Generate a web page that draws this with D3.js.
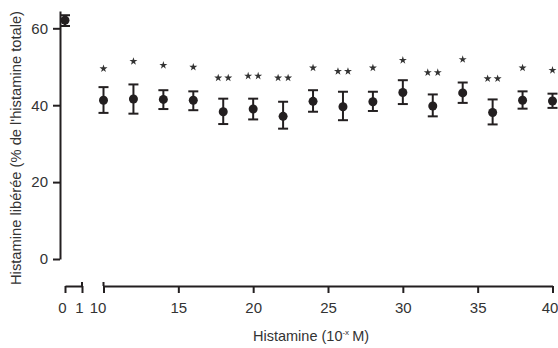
<!DOCTYPE html>
<html>
<head>
<meta charset="utf-8">
<script src="https://cdn.jsdelivr.net/npm/d3@7"></script>
<style>
  body { margin: 0; background: #fff; }
  svg { display: block; font-family: "Liberation Sans", Arial, sans-serif; }
  .axis path, .axis line { stroke: #231f20; stroke-width: 2; }
  .axis text { fill: #333; font-size: 15px; font-family: "Liberation Sans", Arial, sans-serif; }
</style>
</head>
<body>
<svg id="chart"></svg>
<script>
// Histamine concentration (10^-x M); 0 is the control
var doses = [0, 10, 12, 14, 16, 18, 20, 22, 24, 26, 28, 30, 32, 34, 36, 38, 40];
var means = [62.1, 41.3, 41.6, 41.5, 41.3, 38.3, 39.0, 37.1, 41.0, 39.6, 40.9, 43.3, 39.8, 43.2, 38.1, 41.3, 41.1];
var upper = [63.4, 44.7, 45.4, 43.9, 43.6, 41.7, 41.7, 40.9, 43.9, 43.5, 43.5, 46.5, 42.8, 45.9, 41.5, 43.6, 43.0];
var lower = [60.6, 38.0, 37.8, 39.0, 38.7, 35.1, 36.3, 33.9, 38.3, 36.1, 38.5, 40.3, 37.1, 40.6, 35.0, 39.1, 39.3];
// number of significance stars and the level where they sit
var stars = [0, 1, 1, 1, 1, 2, 2, 2, 1, 2, 1, 1, 2, 1, 2, 1, 1];
var starLevel = [0, 49.5, 51.4, 50.4, 49.9, 47.1, 47.6, 47.1, 49.7, 48.8, 49.7, 51.7, 48.5, 51.9, 46.9, 49.7, 49.1];

var yTicks = [0, 20, 40, 60];
var xTicksLow = [0, 1];
var xTicksHigh = [10, 15, 20, 25, 30, 35, 40];

var width = 558, height = 348;
var ink = "#231f20";

var svg = d3.select("#chart")
  .attr("width", width)
  .attr("height", height);

// scales: broken x axis (0-1, then 10-40)
var y = d3.scaleLinear().domain([0, 64.5]).range([259, 11]);
var xLow = d3.scaleLinear().domain([0, 1]).range([65, 82]);
var xHigh = d3.scaleLinear().domain([10, 40]).range([103.5, 552.5]);
var x = function (d) { return d <= 1 ? xLow(d) : xHigh(d); };

var axisY = 286;

// Y axis
svg.append("g")
  .attr("class", "axis")
  .attr("transform", "translate(60,0)")
  .call(d3.axisLeft(y).tickValues(yTicks).tickSize(7).tickSizeOuter(0).tickPadding(5).tickFormat(d3.format("d")));

// X axis, two segments
var gLow = svg.append("g")
  .attr("class", "axis")
  .attr("transform", "translate(0," + axisY + ")")
  .call(d3.axisBottom(xLow).tickValues(xTicksLow).tickSize(7).tickSizeOuter(0).tickPadding(9).tickFormat(d3.format("d")));
gLow.selectAll(".tick text").attr("dx", -3);

var gHigh = svg.append("g")
  .attr("class", "axis")
  .attr("transform", "translate(0," + axisY + ")")
  .call(d3.axisBottom(xHigh).tickValues(xTicksHigh).tickSize(7).tickSizeOuter(0).tickPadding(9).tickFormat(d3.format("d")));
gHigh.selectAll(".tick text").filter(function (d) { return d === 10; }).attr("dx", -6);
gHigh.selectAll(".tick text").filter(function (d) { return d === 40; }).attr("dx", -3);

// break end caps
svg.selectAll(".cap-break")
  .data([1, 10])
  .enter()
  .append("line")
    .attr("x1", function (d) { return x(d); })
    .attr("x2", function (d) { return x(d); })
    .attr("y1", axisY - 4)
    .attr("y2", axisY)
    .attr("stroke", ink)
    .attr("stroke-width", 2);

// axis titles
var xt = svg.append("text")
  .attr("x", 253)
  .attr("y", 341)
  .attr("fill", "#333")
  .style("font-size", "14.5px");
xt.append("tspan").text("Histamine (10");
xt.append("tspan").attr("dy", -6).style("font-size", "8px").text("-x");
xt.append("tspan").attr("dy", 6).attr("dx", 3).text("M)");

svg.append("text")
  .attr("transform", "translate(21,148) rotate(-90)")
  .attr("text-anchor", "middle")
  .attr("fill", "#333")
  .attr("textLength", 274)
  .attr("lengthAdjust", "spacingAndGlyphs")
  .style("font-size", "15px")
  .text("Histamine libérée (% de l'histamine totale)");

var data = doses.map(function (d, i) {
  return { dose: d, mean: means[i], hi: upper[i], lo: lower[i], stars: stars[i], starY: starLevel[i] };
});

var pts = svg.append("g")
  .selectAll("g")
  .data(data)
  .enter()
  .append("g");

// error bars
pts.append("line")
  .attr("x1", function (d) { return x(d.dose); })
  .attr("x2", function (d) { return x(d.dose); })
  .attr("y1", function (d) { return y(d.hi); })
  .attr("y2", function (d) { return y(d.lo); })
  .attr("stroke", ink)
  .attr("stroke-width", 2);

pts.selectAll(".cap")
  .data(function (d) { return [{ dose: d.dose, v: d.hi }, { dose: d.dose, v: d.lo }]; })
  .enter()
  .append("line")
    .attr("x1", function (d) { return x(d.dose) - 5; })
    .attr("x2", function (d) { return x(d.dose) + 5; })
    .attr("y1", function (d) { return y(d.v); })
    .attr("y2", function (d) { return y(d.v); })
    .attr("stroke", ink)
    .attr("stroke-width", 2);

pts.append("circle")
  .attr("cx", function (d) { return x(d.dose); })
  .attr("cy", function (d) { return y(d.mean); })
  .attr("r", 4.5)
  .attr("fill", ink);

// significance stars
var star = d3.symbol().type(d3.symbolStar).size(20);
pts.selectAll(".star")
  .data(function (d) {
    if (d.stars === 1) return [{ dose: d.dose, v: d.starY, off: 0 }];
    if (d.stars === 2) return [{ dose: d.dose, v: d.starY, off: -5 }, { dose: d.dose, v: d.starY, off: 5 }];
    return [];
  })
  .enter()
  .append("path")
    .attr("d", star)
    .attr("transform", function (d) { return "translate(" + (x(d.dose) + d.off) + "," + y(d.v) + ")"; })
    .attr("fill", "#333");
</script>
</body>
</html>
